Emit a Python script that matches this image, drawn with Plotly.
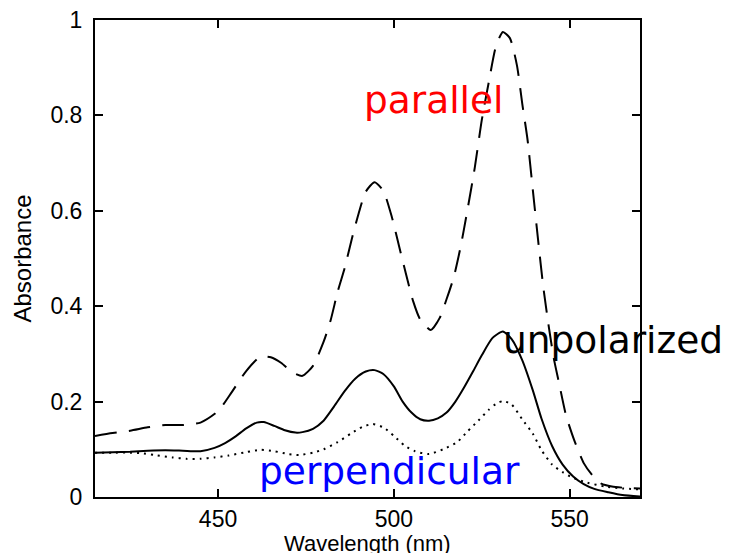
import plotly.graph_objects as go

# Polarized absorbance spectra
wl_parallel = [415, 420, 425, 430, 435, 440, 445, 450, 454, 458, 462, 465, 468, 471, 474,
               477, 480, 482, 484, 486, 488, 490, 492, 494.5, 497, 499.5, 501.5, 503.5,
               505.5, 507.5, 510.5, 513, 515, 517, 519, 521, 523, 525, 527, 529, 531, 533,
               535, 536.5, 538, 539.5, 541, 542.5, 544, 545.5, 547, 549, 551.5, 554, 556.5,
               559, 562, 566, 570]
abs_parallel = [0.128, 0.134, 0.139, 0.146, 0.151, 0.151, 0.156, 0.180, 0.221, 0.264, 0.294,
                0.293, 0.281, 0.262, 0.254, 0.275, 0.325, 0.370, 0.430, 0.480, 0.540, 0.595,
                0.640, 0.660, 0.642, 0.585, 0.525, 0.466, 0.410, 0.372, 0.350, 0.375, 0.415,
                0.460, 0.525, 0.605, 0.690, 0.790, 0.870, 0.944, 0.975, 0.962, 0.905, 0.825,
                0.750, 0.645, 0.540, 0.440, 0.360, 0.290, 0.238, 0.170, 0.115, 0.071, 0.045,
                0.028, 0.022, 0.019, 0.018]

wl_unpolarized = [415, 420, 425, 430, 435, 440, 445, 449, 452, 455, 458, 461, 463, 466, 469,
                  472, 474, 477, 480, 483, 486, 489, 492, 494.5, 497, 500, 502.5, 505, 507.5,
                  510, 512.5, 515, 517.5, 520, 522.5, 525, 528, 531, 533.5, 536.5, 539.5, 542,
                  545, 548, 551, 554, 557, 561, 565, 570]
abs_unpolarized = [0.093, 0.094, 0.095, 0.097, 0.098, 0.097, 0.096, 0.103, 0.113, 0.127, 0.144,
                   0.156, 0.157, 0.149, 0.140, 0.135, 0.136, 0.143, 0.160, 0.190, 0.222, 0.248,
                   0.263, 0.266, 0.258, 0.232, 0.200, 0.177, 0.163, 0.160, 0.165, 0.177, 0.200,
                   0.230, 0.263, 0.297, 0.333, 0.347, 0.331, 0.287, 0.224, 0.164, 0.107, 0.068,
                   0.043, 0.027, 0.017, 0.010, 0.004, 0.001]

wl_perpendicular = [415, 420, 425, 428, 432, 437, 441, 445, 449, 453, 458, 462, 466, 470, 473,
                    477, 480, 484, 488, 491, 494, 497, 500, 503, 506, 510, 514, 518, 521, 524,
                    527, 529, 531, 533.5, 536.5, 539.5, 542, 545, 548, 551, 555, 560, 565, 570]
abs_perpendicular = [0.093, 0.093, 0.093, 0.092, 0.088, 0.083, 0.080, 0.080, 0.083, 0.087,
                     0.094, 0.099, 0.096, 0.090, 0.088, 0.093, 0.100, 0.115, 0.134, 0.147,
                     0.153, 0.146, 0.128, 0.108, 0.096, 0.090, 0.100, 0.115, 0.138, 0.160,
                     0.183, 0.195, 0.201, 0.194, 0.163, 0.133, 0.098, 0.068, 0.052, 0.040,
                     0.030, 0.022, 0.018, 0.016]

x_ticks = [450, 500, 550]
y_ticks = [0, 0.2, 0.4, 0.6, 0.8, 1]
y_tick_text = ["0", "0.2", "0.4", "0.6", "0.8", "1"]

label_text = ["parallel", "unpolarized", "perpendicular"]
label_x = [511.3, 562.4, 498.8]
label_y = [0.832, 0.33, 0.054]
label_color = ["#ff0000", "#000000", "#0000ff"]

fig = go.Figure()
fig.add_trace(go.Scatter(x=wl_parallel, y=abs_parallel, mode="lines",
                         line=dict(color="black", width=2, dash="22px,12px",
                                   shape="spline", smoothing=0.6)))
fig.add_trace(go.Scatter(x=wl_unpolarized, y=abs_unpolarized, mode="lines",
                         line=dict(color="black", width=2,
                                   shape="spline", smoothing=0.6)))
fig.add_trace(go.Scatter(x=wl_perpendicular, y=abs_perpendicular, mode="lines",
                         line=dict(color="black", width=2, dash="2px,5px",
                                   shape="spline", smoothing=0.6)))

for t, x, y, c in zip(label_text, label_x, label_y, label_color):
    fig.add_annotation(x=x, y=y, xref="x", yref="y", text=t, showarrow=False,
                       xanchor="center", yanchor="middle",
                       font=dict(family="DejaVu Sans", size=37.5, color=c))

tick_font = dict(family="Liberation Sans, Arial", size=23, color="black")
title_font = dict(family="Liberation Sans, Arial", size=24, color="black")

# x-axis title placed just under the tick labels
fig.add_annotation(x=0.5, y=0, xref="paper", yref="paper", yshift=-46,
                   text="Wavelength (nm)", showarrow=False,
                   xanchor="center", yanchor="middle",
                   font=dict(family="Liberation Sans, Arial", size=22, color="black"))

fig.update_xaxes(range=[415, 570], tickvals=x_ticks, ticks="inside", ticklen=8,
                 tickwidth=2, tickcolor="black", showline=True, linecolor="black",
                 linewidth=2, mirror="ticks", showgrid=False, zeroline=False,
                 tickfont=tick_font, ticklabelstandoff=0, automargin=False)
fig.update_yaxes(range=[0, 1], tickvals=y_ticks, ticktext=y_tick_text, ticks="inside",
                 ticklen=8, tickwidth=2, tickcolor="black", showline=True,
                 linecolor="black", linewidth=2, mirror="ticks", showgrid=False,
                 zeroline=False, tickfont=tick_font, ticklabelstandoff=6, automargin=False,
                 title=dict(text="Absorbance", font=title_font, standoff=12))

fig.update_layout(width=733, height=553, showlegend=False,
                  paper_bgcolor="white", plot_bgcolor="white",
                  margin=dict(l=95, r=93, t=20, b=56))

fig.write_html("out.html")
